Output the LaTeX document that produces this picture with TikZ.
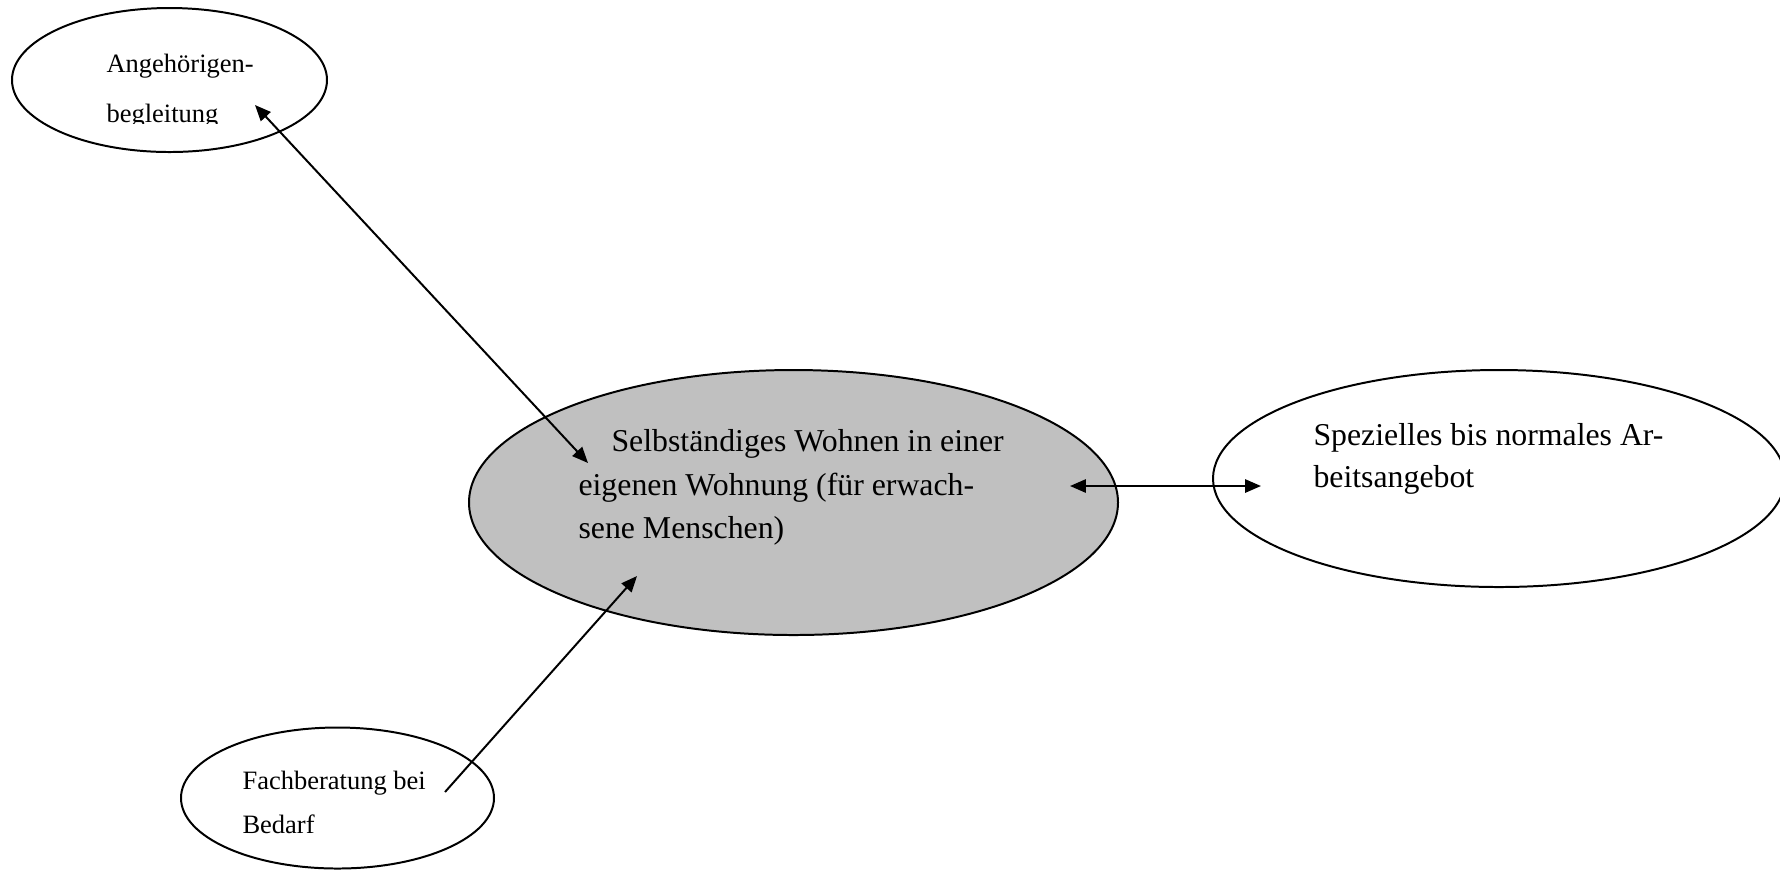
\documentclass[tikz,border=0pt]{standalone}
\usepackage{fontspec}
\setmainfont{Liberation Serif}
\usetikzlibrary{shapes.geometric,arrows.meta}
\definecolor{wohngrau}{HTML}{C0C0C0}
\tikzset{
  bubble/.style 2 args={ellipse, draw=black, line width=0.75pt,
    minimum width=#1*0.37736pt, minimum height=#2*0.37736pt, inner sep=0pt},
  txtbig/.style={anchor=base west, inner sep=0pt, font=\fontsize{12}{14}\selectfont},
  txtsmall/.style={anchor=base west, inner sep=0pt, font=\fontsize{10}{12}\selectfont},
  link/.style={line width=0.75pt, black},
  tip/.style={Triangle[length=6pt,width=5pt]}
}
\begin{document}
\begin{tikzpicture}[x=0.37736pt, y=-0.37736pt]
\useasboundingbox (0,0) rectangle (1780,869);

% the four ellipses
\node[bubble={315}{144}] (angeh) at (169.5,80) {};
\node[bubble={649}{265}, fill=wohngrau] (wohnen) at (793.5,502.5) {};
\node[bubble={572}{217}] (arbeit) at (1499,478.5) {};
\node[bubble={313}{141}] (fach) at (337.5,798) {};

% labels
\node[txtsmall] (angehA) at (106,72) {Angehörigen-};
\begin{scope}
  \clip (90,90) rectangle (320,123.5);
  \node[txtsmall] (angehB) at (106,122.5) {begleitung};
\end{scope}

\node[txtbig] (wohnA) at (611,451) {Selbständiges Wohnen in einer};
\node[txtbig] (wohnB) at (578,495) {eigenen Wohnung (für erwach-};
\node[txtbig] (wohnC) at (578,538.5) {sene Menschen)};

\node[txtbig] (arbA) at (1313,445) {Spezielles bis normales Ar-};
\node[txtbig] (arbB) at (1313,487) {beitsangebot};

\node[txtsmall] (fachA) at (242,789) {Fachberatung bei};
\node[txtsmall] (fachB) at (242,833) {Bedarf};

% connector end points
\coordinate (pA1) at (255,105);
\coordinate (pA2) at (588,463);
\coordinate (pB1) at (445,792);
\coordinate (pB2) at (637,576);
\coordinate (pC1) at (1070,486);
\coordinate (pC2) at (1261,486);

% connectors
\draw[link, {Triangle[length=6pt,width=5pt]}-{Triangle[length=6pt,width=5pt]}] (pA1) -- (pA2);
\draw[link, -{Triangle[length=6pt,width=5pt]}] (pB1) -- (pB2);
\draw[link, {Triangle[length=6pt,width=5pt]}-{Triangle[length=6pt,width=5pt]}] (pC1) -- (pC2);
\end{tikzpicture}
\end{document}
